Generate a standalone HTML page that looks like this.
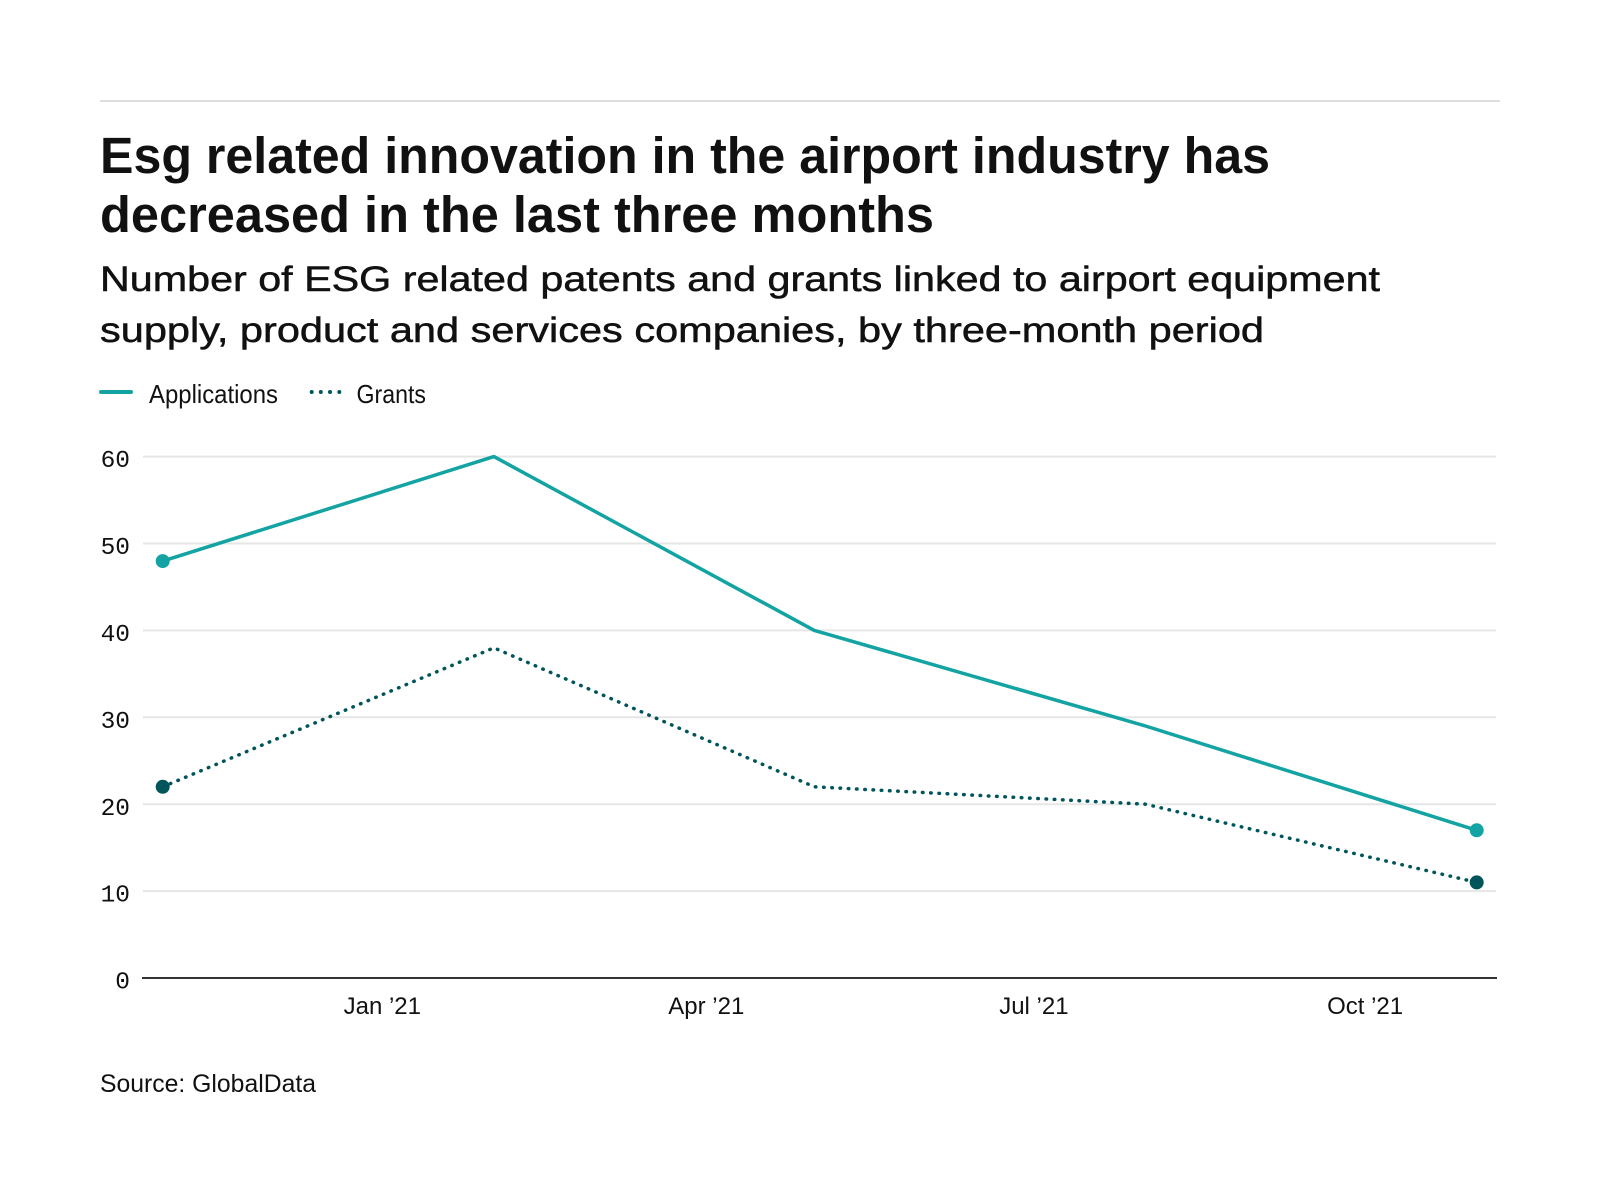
<!DOCTYPE html>
<html>
<head>
<meta charset="utf-8">
<style>
  html, body { margin:0; padding:0; background:#ffffff; }
  svg { display:block; }
  .t { font-family: "Liberation Sans", sans-serif; fill:#111; }
  .m { font-family: "Liberation Mono", monospace; fill:#111; }
</style>
</head>
<body>
<svg width="1600" height="1200" viewBox="0 0 1600 1200" xmlns="http://www.w3.org/2000/svg">
  <rect x="0" y="0" width="1600" height="1200" fill="#ffffff"/>
  <!-- top rule -->
  <rect x="100" y="100" width="1400" height="2" fill="#dddddd"/>

  <!-- title -->
  <text class="t" x="100" y="173" font-size="51" font-weight="bold" fill="#0a0a0a" textLength="1170" lengthAdjust="spacingAndGlyphs">Esg related innovation in the airport industry has</text>
  <text class="t" x="100" y="232" font-size="51" font-weight="bold" fill="#0a0a0a" textLength="834" lengthAdjust="spacingAndGlyphs">decreased in the last three months</text>

  <!-- subtitle -->
  <text class="t" x="100" y="291" font-size="35" stroke="#111" stroke-width="0.5" textLength="1280" lengthAdjust="spacingAndGlyphs">Number of ESG related patents and grants linked to airport equipment</text>
  <text class="t" x="100" y="342" font-size="35" stroke="#111" stroke-width="0.5" textLength="1164" lengthAdjust="spacingAndGlyphs">supply, product and services companies, by three-month period</text>

  <!-- legend -->
  <line x1="101" y1="392" x2="131" y2="392" stroke="#13a3a3" stroke-width="4" stroke-linecap="round"/>
  <text class="t" x="149" y="403" font-size="26" textLength="129" lengthAdjust="spacingAndGlyphs">Applications</text>
  <circle cx="311.7" cy="392" r="2" fill="#00555a"/>
  <circle cx="320.8" cy="392" r="2" fill="#00555a"/>
  <circle cx="330" cy="392" r="2" fill="#00555a"/>
  <circle cx="339.3" cy="392" r="2" fill="#00555a"/>
  <text class="t" x="356.5" y="403" font-size="26" textLength="69.5" lengthAdjust="spacingAndGlyphs">Grants</text>

  <!-- gridlines -->
  <g stroke="#e6e6e6" stroke-width="2">
    <line x1="143" y1="891.1" x2="1496" y2="891.1"/>
    <line x1="143" y1="804.2" x2="1496" y2="804.2"/>
    <line x1="143" y1="717.3" x2="1496" y2="717.3"/>
    <line x1="143" y1="630.4" x2="1496" y2="630.4"/>
    <line x1="143" y1="543.5" x2="1496" y2="543.5"/>
    <line x1="143" y1="456.6" x2="1496" y2="456.6"/>
  </g>
  <!-- axis -->
  <line x1="142" y1="978" x2="1497" y2="978" stroke="#333333" stroke-width="2"/>

  <!-- y labels -->
  <g class="m" font-size="24.5" text-anchor="end">
    <text x="130" y="988.6">0</text>
    <text x="130" y="901.7">10</text>
    <text x="130" y="814.8">20</text>
    <text x="130" y="727.9">30</text>
    <text x="130" y="641">40</text>
    <text x="130" y="554.1">50</text>
    <text x="130" y="467.2">60</text>
  </g>

  <!-- x labels -->
  <g class="t" font-size="24" text-anchor="middle" fill="#1a1a1a">
    <text x="382.3" y="1014">Jan ’21</text>
    <text x="706.3" y="1014">Apr ’21</text>
    <text x="1033.9" y="1014">Jul ’21</text>
    <text x="1365.1" y="1014">Oct ’21</text>
  </g>

  <!-- series: Applications -->
  <polyline points="162.7,561.1 493.9,456.6 814.3,630.4 1145.5,726 1476.7,830.3" fill="none" stroke="#13a3a3" stroke-width="3.5" stroke-linejoin="round"/>
  <circle cx="162.7" cy="561.1" r="7" fill="#13a3a3"/>
  <circle cx="1476.7" cy="830.3" r="7" fill="#13a3a3"/>

  <!-- series: Grants -->
  <polyline points="162.7,786.8 493.9,647.8 814.3,786.8 1145.5,804.2 1476.7,882.4" fill="none" stroke="#00555a" stroke-width="3.5" stroke-linecap="round" stroke-linejoin="round" stroke-dasharray="0.5 7.75"/>
  <circle cx="162.7" cy="786.8" r="7" fill="#00555a"/>
  <circle cx="1476.7" cy="882.4" r="7" fill="#00555a"/>

  <!-- source -->
  <text class="t" x="100" y="1092" font-size="25" textLength="216" lengthAdjust="spacingAndGlyphs">Source: GlobalData</text>
</svg>
</body>
</html>
